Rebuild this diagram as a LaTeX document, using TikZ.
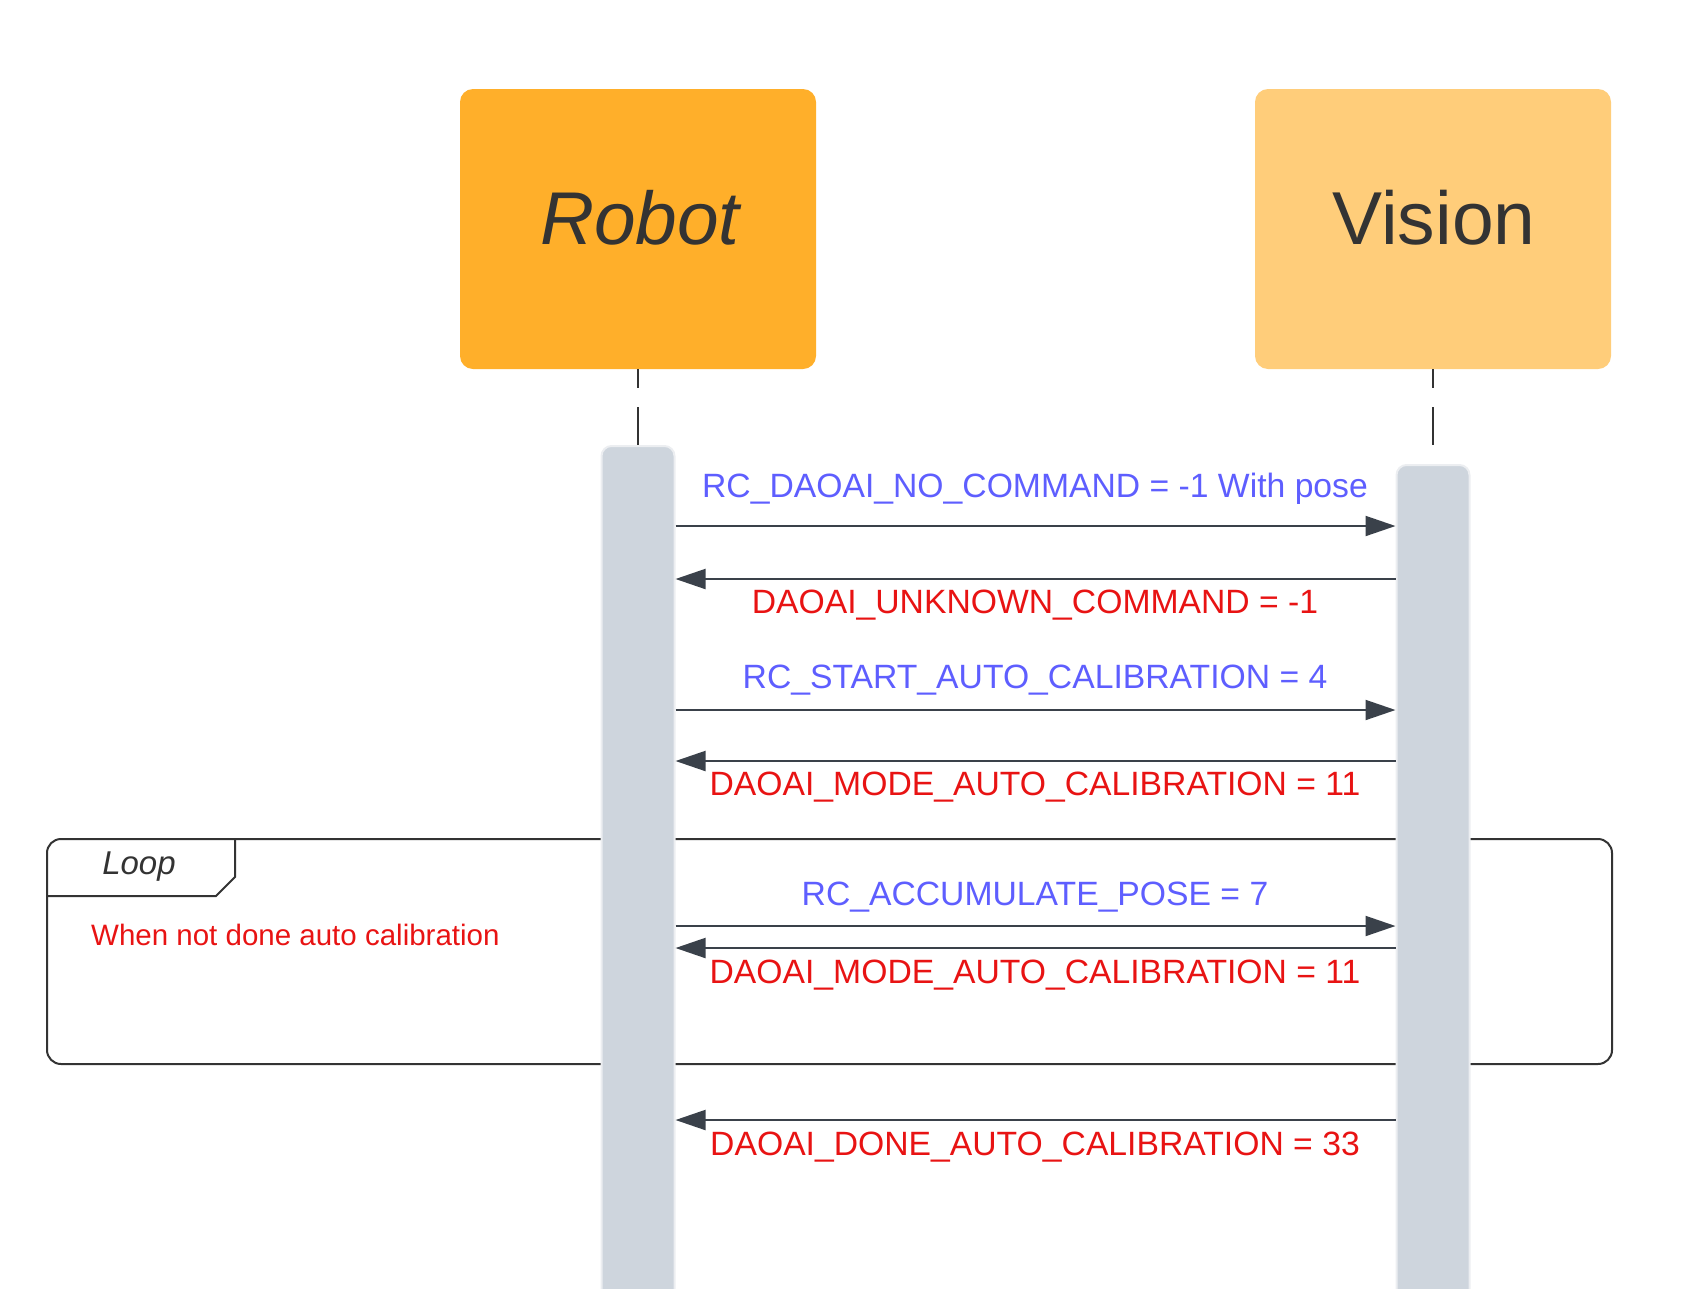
\documentclass[tikz,border=0pt]{standalone}
\usepackage{fontspec}
\setmainfont{Liberation Sans}
\usetikzlibrary{arrows.meta}
\definecolor{robotc}{HTML}{FFAF2A}
\definecolor{visionc}{HTML}{FFCD7A}
\definecolor{barc}{HTML}{CED5DD}
\definecolor{barb}{HTML}{ECEEF1}
\definecolor{ink}{HTML}{333333}
\definecolor{arrc}{HTML}{3A414A}
\definecolor{bluec}{HTML}{5E5EFF}
\definecolor{redc}{HTML}{E81313}
\begin{document}
\begin{tikzpicture}[x=1pt,y=-1pt,
  actor/.style={rectangle, rounded corners=13pt, minimum width=356pt, minimum height=280pt, inner sep=0pt, draw=none},
  actortext/.style={anchor=base, inner sep=0pt, text=ink},
  lifebar/.style={rectangle, rounded corners=10pt, minimum width=73pt, fill=barc, draw=barb, line width=2pt, inner sep=0pt},
  lifeline/.style={draw=ink, line width=2.2pt, dash pattern=on 38pt off 19pt, dash phase=19pt},
  msg/.style={draw=arrc, line width=2pt, -{Triangle[length=30pt,width=20pt]}},
  lbl/.style={anchor=base, inner sep=0pt, font=\fontsize{33.7}{40}\selectfont},
  frame/.style={draw=ink, line width=2pt}
]
\useasboundingbox (0,0) rectangle (1699,1288);
\clip (0,0) rectangle (1699,1288);

% actors
\node[actor, fill=robotc] (robot) at (638,229) {};
\node[actor, fill=visionc] (vision) at (1433,229) {};
\node[actortext, font=\fontsize{74.8}{80}\selectfont\itshape] (robottxt) at (640,244) {Robot};
\node[actortext, font=\fontsize{75}{80}\selectfont] (visiontxt) at (1434,244) {Vision};

% loop frame
\node[frame, rectangle, rounded corners=14pt, minimum width=1565pt, minimum height=225pt, inner sep=0pt] (loop) at (829.5,951.5) {};
\draw[frame] (47,896) -- (216,896) -- (235,877) -- (235,839);
\node[anchor=base, inner sep=0pt, text=ink, font=\fontsize{33}{38}\selectfont\itshape] (looptxt) at (139,874) {Loop};
\node[anchor=base west, inner sep=0pt, text=redc, font=\fontsize{29.5}{36}\selectfont] (cond) at (91,945) {When not done auto calibration};

% activation bars
\node[lifebar, minimum height=863pt] (robotbar) at (638,877.5) {};
\node[lifebar, minimum height=844pt] (visionbar) at (1433,887) {};

% lifelines
\draw[lifeline] (robot.south) -- (robotbar.north);
\draw[lifeline] (vision.south) -- (visionbar.north);

% message levels
\coordinate (y1) at (0,526);
\coordinate (y2) at (0,579);
\coordinate (y3) at (0,710);
\coordinate (y4) at (0,761);
\coordinate (y5) at (0,926);
\coordinate (y6) at (0,948);
\coordinate (y7) at (0,1120);

\draw[msg] (robotbar.east |- y1) -- (visionbar.west |- y1);
\draw[msg] (visionbar.west |- y2) -- (robotbar.east |- y2);
\draw[msg] (robotbar.east |- y3) -- (visionbar.west |- y3);
\draw[msg] (visionbar.west |- y4) -- (robotbar.east |- y4);
\draw[msg] (robotbar.east |- y5) -- (visionbar.west |- y5);
\draw[msg] (visionbar.west |- y6) -- (robotbar.east |- y6);
\draw[msg] (visionbar.west |- y7) -- (robotbar.east |- y7);

% labels
\node[lbl, text=bluec] (l1) at (1035,497) {RC\_DAOAI\_NO\_COMMAND = -1 With pose};
\node[lbl, text=redc] (l2) at (1035,613) {DAOAI\_UNKNOWN\_COMMAND = -1};
\node[lbl, text=bluec] (l3) at (1035,688) {RC\_START\_AUTO\_CALIBRATION = 4};
\node[lbl, text=redc] (l4) at (1035,795) {DAOAI\_MODE\_AUTO\_CALIBRATION = 11};
\node[lbl, text=bluec] (l5) at (1035,905) {RC\_ACCUMULATE\_POSE = 7};
\node[lbl, text=redc] (l6) at (1035,983) {DAOAI\_MODE\_AUTO\_CALIBRATION = 11};
\node[lbl, text=redc] (l7) at (1035,1155) {DAOAI\_DONE\_AUTO\_CALIBRATION = 33};
\end{tikzpicture}
\end{document}
